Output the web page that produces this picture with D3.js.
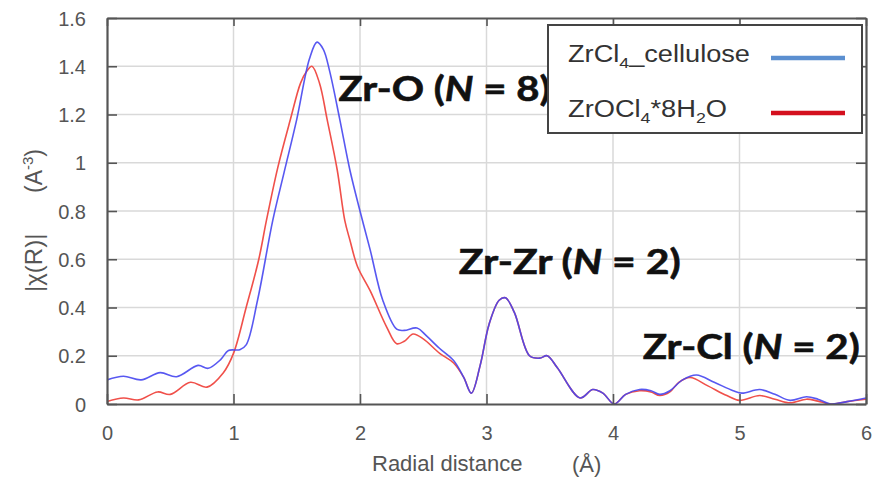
<!DOCTYPE html>
<html><head><meta charset="utf-8">
<script src="https://cdn.jsdelivr.net/npm/d3@7"></script>
<style>body{margin:0;background:#fff}svg{display:block}</style>
</head><body>
<svg id="chart" width="875" height="482"></svg>
<script>
// ---- data ----
const xTicks = [0, 1, 2, 3, 4, 5, 6];
const yTicks = [0, 0.2, 0.4, 0.6, 0.8, 1, 1.2, 1.4, 1.6];
const seriesNames = ["ZrCl4_cellulose", "ZrOCl4*8H2O"];
const blueR = [0,0.13,0.27,0.42,0.55,0.72,0.80,0.90,0.96,1.05,1.10,1.19,1.31,1.40,1.50,1.60,1.66,1.71,1.76,1.84,1.92,2.00,2.08,2.18,2.29,2.35,2.45,2.53,2.63,2.74,2.82,2.88,2.95,3.02,3.10,3.15,3.22,3.34,3.42,3.48,3.56,3.74,3.84,3.92,4.01,4.10,4.21,4.30,4.37,4.45,4.55,4.66,4.80,4.95,5.02,5.16,5.28,5.40,5.53,5.62,5.72,5.85,6.00];
const blueV = [0.10,0.115,0.10,0.13,0.113,0.16,0.148,0.185,0.222,0.225,0.245,0.43,0.76,0.96,1.18,1.43,1.50,1.47,1.38,1.18,0.97,0.80,0.64,0.43,0.31,0.305,0.315,0.28,0.23,0.18,0.11,0.045,0.16,0.33,0.43,0.44,0.38,0.20,0.19,0.20,0.15,0.025,0.06,0.045,0.0,0.04,0.06,0.055,0.04,0.055,0.10,0.12,0.09,0.055,0.045,0.06,0.04,0.015,0.03,0.02,0.0,0.01,0.025];
const redR = [0,0.13,0.25,0.40,0.50,0.66,0.79,0.92,1.00,1.10,1.20,1.26,1.35,1.45,1.53,1.58,1.62,1.68,1.74,1.82,1.88,1.92,1.98,2.08,2.21,2.29,2.35,2.42,2.50,2.63,2.74,2.82,2.88,2.95,3.02,3.10,3.15,3.22,3.34,3.42,3.48,3.56,3.74,3.84,3.92,4.01,4.10,4.21,4.30,4.37,4.45,4.52,4.61,4.75,4.90,5.00,5.16,5.28,5.40,5.53,5.62,5.72,5.85,6.00];
const redV = [0.01,0.025,0.017,0.05,0.04,0.09,0.07,0.13,0.21,0.40,0.60,0.76,0.98,1.18,1.33,1.38,1.40,1.33,1.18,0.97,0.76,0.68,0.57,0.47,0.32,0.25,0.26,0.29,0.27,0.21,0.17,0.11,0.045,0.16,0.33,0.43,0.44,0.38,0.20,0.19,0.20,0.15,0.025,0.06,0.045,0.0,0.04,0.055,0.05,0.035,0.05,0.09,0.11,0.075,0.035,0.015,0.035,0.02,0.005,0.02,0.012,0.0,0.01,0.02];
const annotations = [
  {label:"Zr-O", n:"8", x:1.83, y:1.255, w:212},
  {label:"Zr-Zr", n:"2", x:2.78, y:0.54, w:222},
  {label:"Zr-Cl", n:"2", x:4.235, y:0.185, w:217}
];

// ---- layout ----
const svg = d3.select("#chart");
const m = {l:107, r:9, t:18, b:78};
const W = 875, H = 482;
const x = d3.scaleLinear().domain([0,6]).range([m.l, W - m.r]);
const y = d3.scaleLinear().domain([0,1.6]).range([H - m.b, m.t]);
const frame = "#555", grid = "#d9d9d9", tickCol = "#555";

// grid
svg.append("g").selectAll("line").data(yTicks.slice(1,-1)).join("line")
  .attr("x1", x(0)).attr("x2", x(6)).attr("y1", d=>y(d)).attr("y2", d=>y(d))
  .attr("stroke", grid).attr("stroke-width", 1.5);
svg.append("g").selectAll("line").data(xTicks.slice(1,-1)).join("line")
  .attr("y1", y(0)).attr("y2", y(1.6)).attr("x1", d=>x(d)).attr("x2", d=>x(d))
  .attr("stroke", grid).attr("stroke-width", 1.5);

// curves
svg.append("clipPath").attr("id","clip").append("rect")
  .attr("x", x(0)).attr("y", y(1.6)).attr("width", x(6)-x(0)).attr("height", y(0)-y(1.6));
const line = d3.line().x(d=>x(d[0])).y(d=>y(d[1])).curve(d3.curveCatmullRom.alpha(0.5));
const blue = d3.zip(blueR, blueV), red = d3.zip(redR, redV);
const cg = svg.append("g").attr("clip-path","url(#clip)");
cg.append("path").attr("d", line(red)).attr("fill","none").attr("stroke","#f0504a").attr("stroke-width",1.6);
cg.append("path").attr("d", line(blue)).attr("fill","none").attr("stroke","#4646f0").attr("stroke-width",1.6).attr("opacity",0.9);

// axes (ticks inward)
const yAxis = d3.axisLeft(y).tickValues(yTicks).tickFormat(d3.format("~g")).tickSizeInner(-10).tickSizeOuter(0).tickPadding(21);
const gy = svg.append("g").attr("transform", `translate(${x(0)},0)`).call(yAxis);
const xAxis = d3.axisBottom(x).tickValues(xTicks).tickFormat(d3.format("d")).tickSizeInner(-10).tickSizeOuter(0).tickPadding(22);
const gx = svg.append("g").attr("transform", `translate(0,${y(0)})`).call(xAxis);
const gyR = svg.append("g").attr("transform", `translate(${x(6)},0)`).call(d3.axisRight(y).tickValues(yTicks).tickFormat("").tickSizeInner(-10).tickSizeOuter(0));
const gxT = svg.append("g").attr("transform", `translate(0,${y(1.6)})`).call(d3.axisTop(x).tickValues(xTicks).tickFormat("").tickSizeInner(-8).tickSizeOuter(0));
[gy,gx,gyR,gxT].forEach(g=>{
  g.select(".domain").attr("stroke", frame).attr("stroke-width", 2.2);
  g.selectAll(".tick line").attr("stroke", tickCol).attr("stroke-width", 1.6);
  g.selectAll("text").attr("font-family","'Liberation Sans', Arial, sans-serif").attr("font-size",20).attr("fill","#555");
});
gy.selectAll("text").attr("dy","0.36em");

// axis titles
svg.append("text").attr("x", 372).attr("y", 471).attr("font-family","'Liberation Sans', Arial, sans-serif")
  .attr("font-size",22).attr("fill","#555").text("Radial distance");
svg.append("text").attr("x", 572).attr("y", 472).attr("font-family","'Liberation Sans', Arial, sans-serif")
  .attr("font-size",22).attr("fill","#555").text("(Å)");
const yt1 = svg.append("text").attr("transform","translate(42,292) rotate(-90)")
  .attr("font-family","'Liberation Sans', Arial, sans-serif").attr("font-size",24).attr("fill","#555").text("|χ(R)|");
const yt2 = svg.append("text").attr("transform","translate(42,193) rotate(-90)")
  .attr("font-family","'Liberation Sans', Arial, sans-serif").attr("font-size",23).attr("fill","#555");
yt2.append("tspan").text("(A");
yt2.append("tspan").attr("font-size",15).attr("dy",-9).text("-3");
yt2.append("tspan").attr("dy",9).text(")");

// annotations
const ann = svg.append("g");
annotations.forEach(a=>{
  const t = ann.append("text").attr("x", x(a.x)).attr("y", y(a.y))
    .attr("font-family","Lato, 'Open Sans', sans-serif").attr("font-weight",700)
    .attr("font-size",35).attr("fill","#111").attr("stroke","#111").attr("stroke-width",0.6)
    .attr("textLength", a.w).attr("lengthAdjust","spacingAndGlyphs");
  t.append("tspan").text(a.label + " (");
  t.append("tspan").attr("font-style","italic").text("N");
  t.append("tspan").text(" = " + a.n + ")");
});

// legend
const lg = svg.append("g");
lg.append("rect").attr("x",548).attr("y",25).attr("width",314).attr("height",108)
  .attr("fill","#fff").attr("stroke","#444").attr("stroke-width",2);
const legItems = [
  {parts:[["ZrCl",0],["4",1],["_cellulose",0]], color:"#5b8fd0", w:182, yy:62},
  {parts:[["ZrOCl",0],["4",1],["*8H",0],["2",1],["O",0]], color:"#d4101e", w:159, yy:117}
];
legItems.forEach((it,i)=>{
  const t = lg.append("text").attr("x",568).attr("y",it.yy)
    .attr("font-family","'Liberation Sans', Arial, sans-serif").attr("font-size",23).attr("fill","#333")
    .attr("textLength", it.w).attr("lengthAdjust","spacingAndGlyphs");
  let sub = false;
  it.parts.forEach(([s,isSub])=>{
    const ts = t.append("tspan").text(s);
    if (isSub && !sub) { ts.attr("font-size",15).attr("dy",6); sub = true; }
    else if (!isSub && sub) { ts.attr("dy",-6); sub = false; }
  });
  t.attr("data-name", seriesNames[i]);
  lg.append("line").attr("x1",771).attr("x2",845).attr("y1",it.yy-4).attr("y2",it.yy-4)
    .attr("stroke", it.color).attr("stroke-width",4.5);
});
</script>
</body></html>
